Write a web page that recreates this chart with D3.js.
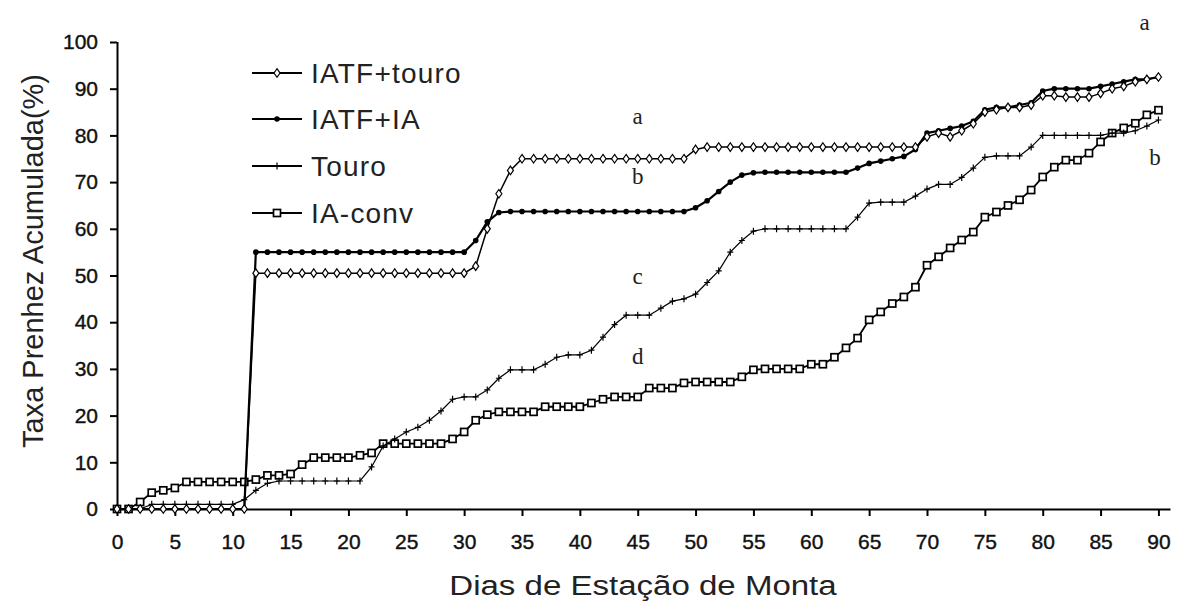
<!DOCTYPE html>
<html><head><meta charset="utf-8">
<script src="https://cdn.jsdelivr.net/npm/d3@7/dist/d3.min.js"></script>
<style>
html,body{margin:0;padding:0;background:#fff;}
svg{display:block;}
</style></head>
<body>
<svg id="chart" width="1182" height="601"></svg>
<script>
// ---- data ----
const days = d3.range(0, 91); // 0..90 days of breeding season
const seriesNames = ["IATF+touro", "IATF+IA", "Touro", "IA-conv"];
const xTicks = [0,5,10,15,20,25,30,35,40,45,50,55,60,65,70,75,80,85,90];
const yTicks = [0,10,20,30,40,50,60,70,80,90,100];

const iatfTouro = [
  0,0,0,0,0,0,0,0,0,0,0,0,                       // 0-11
  50.5,50.5,50.5,50.5,50.5,50.5,50.5,50.5,50.5,50.5, // 12-21
  50.5,50.5,50.5,50.5,50.5,50.5,50.5,50.5,50.5,    // 22-30
  52,60,67.5,72.5,75,                             // 31-35
  75,75,75,75,75,75,75,75,75,75,75,75,75,75,      // 36-49
  77,77.5,77.5,77.5,77.5,77.5,77.5,77.5,77.5,77.5, // 50-59
  77.5,77.5,77.5,77.5,77.5,77.5,77.5,77.5,77.5,77.5, // 60-69
  79.7,80.5,79.7,81,82.5,85,85.5,86,86,86.5,      // 70-79
  88.5,88.5,88.2,88.2,88.2,89,90,90.5,91.5,92,92.5 // 80-90
];
const iatfIA = [
  0,0,0,0,0,0,0,0,0,0,0,0,                       // 0-11
  55,55,55,55,55,55,55,55,55,55,                 // 12-21
  55,55,55,55,55,55,55,55,55,                    // 22-30
  57.5,61.5,63.5,                                // 31-33
  63.7,63.7,63.7,63.7,63.7,63.7,63.7,63.7,63.7,63.7,63.7,63.7,63.7,63.7,63.7,63.7, // 34-49
  64.5,66,68,70,71.5,72,                         // 50-55
  72.1,72.1,72.1,72.1,72.1,72.1,72.1,72.1,       // 56-63
  73,74,74.5,75,75.5,77,                         // 64-69
  80.5,81,81.5,82,83,85.5,86,86,86.5,87,         // 70-79
  89.5,90,90,90,90,90.5,91,91.5,92,92,92.5       // 80-90
];
const touro = [
  0,0,0,1,1,1,1,1,1,1,1,                         // 0-10
  2,4,5.5,                                       // 11-13
  6,6,6,6,6,6,6,6,                               // 14-21
  9,13.5,15,16.5,17.5,19,21,23.5,24,24,          // 22-31
  25.5,28,29.8,29.8,29.8,31,32.5,33,33,34,       // 32-41
  36.8,39.5,41.5,41.5,41.5,43,44.5,45,46,48.5,   // 42-51
  51,55,57.5,59.5,                               // 52-55
  60,60,60,60,60,60,60,60,                       // 56-63
  62.5,65.5,65.7,65.7,65.7,67,68.5,69.5,69.5,71, // 64-73
  73,75.3,75.6,75.6,75.6,77.5,                   // 74-79
  80,80,80,80,80,80,80.5,80.5,81,82,83.3         // 80-90
];
const iaConv = [
  0,0,1.5,3.5,4,4.5,                             // 0-5
  5.8,5.8,5.8,5.8,5.8,5.8,                       // 6-11
  6.3,7.2,7.2,7.5,9.5,11,11,11,11,11.5,          // 12-21
  12,14,14,14,14,14,14,15,16.5,19,               // 22-31
  20.2,20.8,20.8,20.8,20.8,21.9,21.9,21.9,21.9,22.7, // 32-41
  23.5,24,24,24,25.9,25.9,25.9,27,27.2,27.2,     // 42-51
  27.2,27.2,28.3,29.8,30,30,30,30,31,31,         // 52-61
  32.5,34.5,36.6,40.5,42.2,44,45.4,47.5,52.2,54, // 62-71
  55.9,57.6,59.3,62.5,63.6,65,66.2,68.3,71.1,73.2, // 72-81
  74.7,74.7,76.2,78.6,80.5,81.6,82.6,84.4,85.4   // 82-90
];
const groupLetters = [
  {t:"a", day:88.8, v:104},
  {t:"a", day:45.0, v:84},
  {t:"b", day:45.0, v:71},
  {t:"c", day:45.0, v:49.7},
  {t:"d", day:45.0, v:32.5},
  {t:"b", day:89.7, v:75.2}
];

// ---- chart ----
const svg = d3.select("#chart");
const x = d3.scaleLinear().domain([0, 91]).range([117, 1170]);
const y = d3.scaleLinear().domain([0, 100]).range([509, 42]);
const FONT = "'Liberation Sans', Arial, sans-serif";
const SERIF = "'Liberation Serif', 'Times New Roman', serif";

// axes
const gx = svg.append("g").attr("transform", `translate(0,${y(0)})`)
  .call(d3.axisBottom(x).tickValues(xTicks).tickSize(7).tickSizeOuter(0).tickPadding(18));
const gy = svg.append("g").attr("transform", `translate(${x(0)},0)`)
  .call(d3.axisLeft(y).tickValues(yTicks).tickSize(7).tickSizeOuter(0).tickPadding(12));
[gx, gy].forEach(g => {
  g.select(".domain").attr("stroke", "#000").attr("stroke-width", 2);
  g.selectAll(".tick line").attr("stroke", "#000").attr("stroke-width", 2);
  g.selectAll(".tick text").attr("fill", "#111").style("font-family", FONT).style("font-size", "21px")
    .attr("stroke", "#111").attr("stroke-width", 0.4);
});
gy.select(".domain").attr("d", `M0.5,${y(0)}V${y(100)}`);

// axis titles
svg.append("text").attr("transform", "translate(643,595) scale(1.18,1)").attr("text-anchor", "middle")
  .style("font-family", FONT).style("font-size", "28px").attr("fill", "#222")
  .text("Dias de Estação de Monta");
svg.append("text").attr("transform", "translate(43,261) rotate(-90)").attr("text-anchor", "middle")
  .style("font-family", FONT).style("font-size", "29px").attr("fill", "#222")
  .text("Taxa Prenhez Acumulada(%)");

// markers
function drawMarker(g, type, cx, cy) {
  if (type === 0) { // open diamond
    g.append("path").attr("d", `M${cx},${cy-4.3}L${cx+3},${cy}L${cx},${cy+4.3}L${cx-3},${cy}Z`)
      .attr("fill", "#fff").attr("stroke", "#000").attr("stroke-width", 1.2);
  } else if (type === 1) { // filled dot
    g.append("circle").attr("cx", cx).attr("cy", cy).attr("r", 2.8).attr("fill", "#000");
  } else if (type === 2) { // small cross
    g.append("path").attr("d", `M${cx-3},${cy}H${cx+3}M${cx},${cy-3.5}V${cy+3.5}`)
      .attr("stroke", "#000").attr("stroke-width", 1.2).attr("fill", "none");
  } else { // open square
    g.append("rect").attr("x", cx-3.5).attr("y", cy-3.5).attr("width", 7).attr("height", 7)
      .attr("fill", "#fff").attr("stroke", "#000").attr("stroke-width", 1.7);
  }
}

const allSeries = [iatfTouro, iatfIA, touro, iaConv];
const lineW = [1.5, 2.2, 1.2, 1.8];
const drawOrder = [3, 2, 1, 0];
const line = d3.line().x((d, i) => x(days[i])).y(d => y(d));
drawOrder.forEach(k => {
  const vals = allSeries[k];
  const g = svg.append("g");
  g.append("path").attr("d", line(vals)).attr("fill", "none")
    .attr("stroke", "#000").attr("stroke-width", lineW[k]);
  vals.forEach((v, i) => drawMarker(g, k, x(days[i]), y(v)));
});

// group letters
groupLetters.forEach(l => {
  svg.append("text").attr("x", x(l.day)).attr("y", y(l.v)).attr("text-anchor", "middle")
    .attr("dy", "0.3em").style("font-family", SERIF).style("font-size", "23px").attr("fill", "#222")
    .text(l.t);
});

// legend
const legRows = [73, 119, 166, 213];
seriesNames.forEach((name, k) => {
  const g = svg.append("g");
  g.append("line").attr("x1", 252).attr("x2", 302).attr("y1", legRows[k]).attr("y2", legRows[k])
    .attr("stroke", "#000").attr("stroke-width", 2);
  drawMarker(g, k, 277, legRows[k]);
  g.append("text").attr("x", 311).attr("y", legRows[k]).attr("dy", "0.36em")
    .style("font-family", FONT).style("font-size", "28px").style("letter-spacing", "1.2px").attr("fill", "#222")
    .text(name);
});
</script>
</body></html>
